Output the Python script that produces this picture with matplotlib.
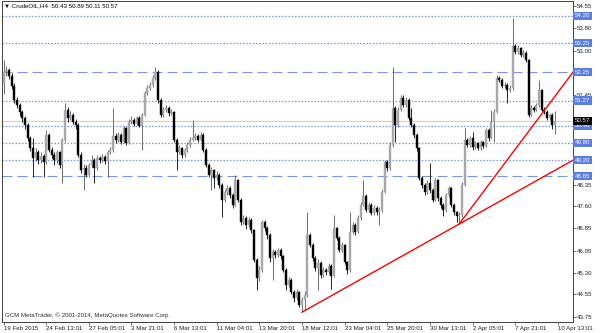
import numpy as np
import matplotlib
matplotlib.use("Agg")
from matplotlib import pyplot as plt

plt.rcParams['font.family'] = ['Liberation Sans', 'DejaVu Sans']

# CrudeOIL H4 candles, 19 Feb 2015 .. 10 Apr 2015
first_open = 51.86
closes = [
    52.27, 52.33, 52.12, 51.78, 51.29, 51.12, 50.88, 50.66, 50.42, 49.97,
    49.63, 49.27, 49.49, 49.21, 49.34, 49.14, 50.07, 49.56, 49.38, 49.21,
    49.49, 49.04, 49.90, 50.95, 50.66, 50.76, 50.53, 50.42, 49.38, 48.86,
    48.93, 48.68, 49.04, 49.21, 48.93, 49.27, 49.21, 49.31, 49.17, 49.49,
    49.56, 50.04, 49.90, 50.07, 49.83, 50.32, 49.80, 50.53, 50.59, 50.46,
    50.66, 50.39, 50.76, 51.54, 51.71, 51.81, 52.05, 52.27, 51.29, 50.76,
    50.95, 51.01, 50.84, 50.88, 49.90, 49.49, 49.63, 49.38, 49.56, 49.73,
    49.90, 49.97, 50.04, 49.90, 50.07, 49.56, 49.04, 48.68, 48.86, 48.58,
    48.68, 48.34, 47.82, 48.10, 48.24, 47.99, 47.65, 48.51, 47.82, 47.06,
    47.19, 46.96, 47.13, 46.78, 45.74, 45.11, 45.40, 47.06, 46.85, 46.60,
    45.81, 46.01, 45.91, 46.09, 45.87, 45.40, 44.87, 45.05, 44.62, 44.42,
    44.62, 44.18, 44.35, 44.52, 46.60, 46.26, 45.81, 45.47, 45.64, 45.22,
    45.40, 45.32, 45.53, 45.18, 46.85, 46.50, 46.09, 46.26, 45.67, 45.40,
    46.70, 46.96, 46.70, 47.19, 47.65, 47.96, 47.47, 47.65, 47.36, 47.54,
    47.40, 47.47, 48.10, 49.14, 48.93, 49.73, 51.01, 50.42, 50.95, 51.36,
    51.12, 51.29, 50.66, 50.42, 50.07, 49.63, 48.58, 48.34, 48.10, 48.41,
    48.17, 47.82, 48.51, 47.89, 47.65, 47.47, 47.99, 48.24, 47.65, 47.40,
    47.26, 47.29, 48.34, 49.90, 49.73, 49.97, 49.66, 49.80, 49.63, 49.83,
    49.70, 50.25, 49.97, 50.53, 50.88, 52.05, 51.98, 51.78, 51.81, 51.64,
    51.71, 53.16, 52.96, 53.09, 52.86, 52.92, 52.67, 50.76, 51.01, 50.95,
    51.12, 51.64, 50.95, 50.88, 50.66, 50.76, 50.43, 50.57,
]
highs = [
    52.66, 52.46, 52.41, 52.21, 51.86, 51.40, 51.20, 50.94, 50.74, 50.49,
    50.03, 49.97, 49.62, 49.57, 49.47, 49.42, 50.24, 50.13, 49.67, 49.47,
    49.57, 49.52, 49.98, 51.19, 51.05, 50.89, 50.84, 50.64, 50.49, 49.47,
    49.07, 49.02, 49.12, 49.37, 49.27, 49.37, 49.34, 49.40, 49.37, 49.54,
    49.67, 51.01, 50.13, 50.18, 50.13, 50.38, 50.35, 50.62, 50.72, 50.66,
    50.74, 50.72, 50.84, 51.60, 51.80, 51.90, 52.16, 52.43, 52.32, 51.35,
    51.05, 51.13, 51.07, 50.97, 50.92, 49.98, 49.72, 49.67, 49.64, 49.82,
    50.01, 50.59, 50.15, 50.11, 50.18, 50.13, 49.62, 49.12, 48.96, 48.91,
    48.81, 48.76, 48.41, 48.20, 48.35, 48.30, 48.05, 48.68, 48.56, 47.90,
    47.31, 47.27, 47.24, 47.19, 46.83, 45.82, 45.52, 47.13, 47.14, 46.93,
    46.68, 46.12, 46.09, 46.17, 46.15, 45.92, 45.47, 45.16, 45.11, 44.70,
    44.73, 44.67, 44.45, 44.65, 47.40, 46.68, 46.33, 45.87, 45.77, 45.69,
    45.51, 45.46, 45.62, 45.59, 47.29, 46.90, 46.58, 46.36, 46.30, 45.72,
    47.40, 47.07, 47.01, 47.29, 47.75, 48.51, 48.02, 47.75, 47.70, 47.65,
    47.60, 47.58, 48.19, 49.22, 49.22, 49.82, 52.43, 51.07, 51.05, 51.47,
    51.45, 51.40, 51.35, 51.01, 50.49, 50.13, 49.67, 48.66, 48.41, 48.51,
    49.10, 48.22, 48.59, 48.56, 47.95, 47.72, 48.08, 48.32, 48.28, 47.70,
    47.44, 47.39, 48.43, 50.31, 49.98, 50.05, 50.17, 49.87, 49.84, 49.90,
    49.87, 50.33, 50.31, 50.95, 50.97, 52.14, 52.11, 52.04, 51.90, 51.87,
    51.80, 54.13, 53.23, 53.18, 53.13, 53.03, 52.97, 52.72, 51.10, 51.07,
    51.20, 51.98, 51.68, 51.03, 50.95, 50.84, 50.82, 50.89,
]
lows = [
    51.51, 52.11, 52.01, 51.66, 51.20, 51.00, 50.74, 50.54, 50.29, 49.88,
    49.52, 48.62, 49.17, 49.07, 49.12, 48.62, 49.07, 49.47, 49.27, 49.02,
    49.12, 48.92, 48.41, 49.83, 50.54, 50.59, 50.44, 50.29, 49.32, 48.76,
    48.16, 48.61, 48.63, 48.97, 48.41, 48.86, 49.12, 49.14, 49.07, 48.62,
    49.40, 49.50, 49.81, 49.83, 49.75, 49.78, 49.73, 49.75, 50.44, 50.39,
    50.42, 50.34, 49.55, 50.72, 51.45, 51.63, 51.75, 51.98, 51.20, 50.69,
    50.69, 50.86, 50.74, 50.76, 49.83, 48.85, 49.40, 49.27, 49.32, 49.50,
    49.67, 49.85, 49.91, 49.83, 49.85, 49.47, 48.97, 48.61, 48.16, 48.23,
    48.51, 48.25, 47.24, 47.75, 48.00, 47.90, 47.55, 47.60, 47.75, 46.94,
    46.99, 46.83, 46.89, 46.68, 45.67, 44.70, 45.01, 45.31, 46.73, 46.48,
    45.67, 45.05, 45.82, 45.85, 45.77, 45.31, 44.70, 44.81, 44.55, 44.30,
    44.35, 44.10, 43.93, 44.00, 44.45, 46.18, 45.72, 45.37, 44.70, 45.11,
    45.16, 45.21, 45.26, 44.75, 45.14, 46.43, 46.00, 46.03, 45.59, 45.26,
    45.34, 46.63, 46.60, 46.66, 47.14, 47.60, 47.40, 47.40, 47.29, 47.31,
    47.31, 46.96, 47.42, 48.06, 48.84, 48.86, 49.67, 49.83, 50.34, 50.90,
    51.03, 51.05, 50.59, 50.34, 49.98, 49.52, 48.51, 48.25, 48.00, 48.02,
    48.08, 47.75, 47.78, 47.80, 47.55, 47.26, 47.42, 47.92, 47.58, 47.31,
    47.06, 47.03, 47.24, 48.29, 49.65, 49.67, 49.57, 49.60, 49.54, 49.57,
    49.62, 49.65, 49.88, 49.93, 49.83, 50.82, 51.90, 51.70, 51.70, 51.19,
    51.55, 51.65, 52.87, 52.89, 52.77, 52.79, 52.59, 50.69, 50.72, 50.86,
    50.89, 51.05, 50.86, 50.79, 50.59, 50.59, 50.29, 50.11,
]

time_labels = ["19 Feb 2015", "24 Feb 13:01", "27 Feb 05:01", "3 Mar 21:01",
               "6 Mar 13:01", "11 Mar 04:01", "13 Mar 20:01", "18 Mar 12:01",
               "23 Mar 04:01", "25 Mar 20:01", "30 Mar 13:01", "2 Apr 05:01",
               "7 Apr 21:01", "10 Apr 13:01"]
bars_per_label = 16

price_ticks = [54.55, 53.80, 53.00, 52.25, 51.45, 50.65, 49.90, 49.15,
               48.35, 47.60, 46.85, 46.05, 45.30, 44.55, 43.75]
# scale labels that sit under the level boxes
hidden_ticks = [52.25, 50.65, 49.90, 49.15]
dotted_levels = [54.20, 53.25, 51.27, 50.40, 49.80, 49.20]
dashed_levels = [52.25, 48.65]
bid = 50.57

# trend lines (bar index, price)
trend_a_x = [112, 213.7]
trend_a_y = [43.93, 49.20]
trend_b_x = [171, 213.7]
trend_b_y = [46.99, 52.25]

header = "▼ CrudeOIL,H4  50.43 50.89 50.11 50.57"
footer = "GCM MetaTrader, © 2001-2014, MetaQuotes Software Corp."

# ---- drawing ----
closes = np.array(closes)
highs = np.array(highs)
lows = np.array(lows)
opens = np.r_[first_open, closes[:-1]]
xs = np.arange(len(closes))
up = closes >= opens

fig = plt.figure(figsize=(6, 3.33), dpi=100)
ax = fig.add_axes([2 / 600, 11 / 333, 571 / 600, 321 / 333])

line_blue = "#7595ee"
box_blue = "#5a7ee6"

# horizontal levels
for lv in dotted_levels:
    ax.axhline(lv, color=line_blue, lw=0.9, ls=(0, (1.2, 1.4)), zorder=1)
for lv in dashed_levels:
    ax.axhline(lv, color=line_blue, lw=0.8, ls=(0, (9, 4.5)), zorder=1)
ax.axhline(bid, color="#cfcfcf", lw=0.8, zorder=1)

# candles
ax.vlines(xs[up], lows[up], highs[up], color="#555555", lw=0.6, zorder=2)
ax.vlines(xs[~up], lows[~up], highs[~up], color="black", lw=0.6, zorder=2)
body_lo = np.minimum(opens, closes)
body_h = np.abs(closes - opens)
ax.bar(xs[up], body_h[up], bottom=body_lo[up], width=0.75,
       color="#a8a8a8", edgecolor="#a8a8a8", lw=0.3, zorder=3)
ax.bar(xs[~up], body_h[~up], bottom=body_lo[~up], width=0.75,
       color="black", edgecolor="black", lw=0.3, zorder=3)

# trend lines
ax.plot(trend_a_x, trend_a_y, color="#ff0000", lw=1.0, zorder=4)
ax.plot(trend_b_x, trend_b_y, color="#ff0000", lw=1.0, zorder=4)

ax.set_xlim(-0.6, 213.7)
ax.set_ylim(43.59, 54.72)

# axes styling
for sp in ax.spines.values():
    sp.set_color("#404040")
    sp.set_linewidth(0.7)
ax.yaxis.tick_right()
ax.set_yticks(price_ticks)
ax.set_yticklabels(["" if p in hidden_ticks else f"{p:.2f}" for p in price_ticks])
ax.set_xticks(np.arange(len(time_labels)) * bars_per_label)
ax.set_xticklabels(time_labels)
ax.tick_params(axis="both", labelsize=4.4, length=2, width=0.5,
               color="#404040", labelcolor="#202020", pad=1)
for lbl in ax.get_xticklabels():
    lbl.set_ha("left")

# price boxes on the right scale
box_x = 1 + 2 / 571
for lv in dotted_levels + dashed_levels:
    ax.text(box_x, lv, f"{lv:.2f}", transform=ax.get_yaxis_transform(),
            fontsize=4.4, color="white", va="center", ha="left",
            bbox=dict(boxstyle="square,pad=0.25", fc=box_blue, ec="none"),
            zorder=6, clip_on=False)
ax.text(box_x, bid, f"{bid:.2f}", transform=ax.get_yaxis_transform(),
        fontsize=4.4, color="white", va="center", ha="left",
        bbox=dict(boxstyle="square,pad=0.25", fc="black", ec="none"),
        zorder=6, clip_on=False)

ax.text(0.004, 0.984, header, transform=ax.transAxes, fontsize=4.4,
        va="center", ha="left", color="black")
ax.text(0.005, 0.022, footer, transform=ax.transAxes, fontsize=4.4,
        va="center", ha="left", color="#303030")

fig.savefig("out.png", dpi=100)
